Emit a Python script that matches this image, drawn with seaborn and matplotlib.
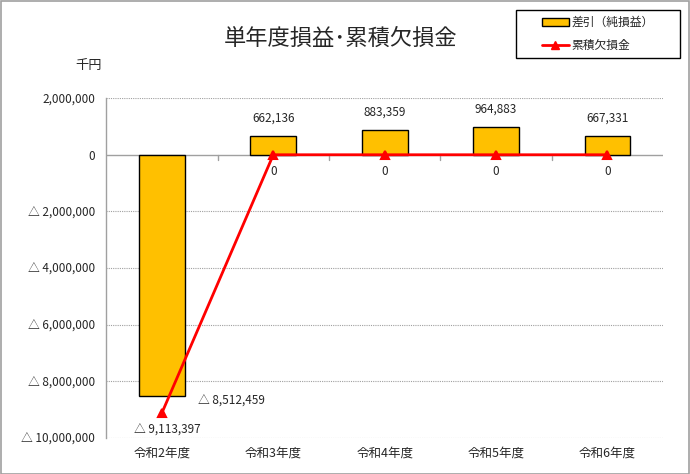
import matplotlib
matplotlib.use("Agg")
import matplotlib.pyplot as plt
import seaborn as sns
import pandas as pd
from matplotlib.lines import Line2D
from matplotlib.patches import Patch, Rectangle

sns.set_theme(style="white")
plt.rcParams["font.family"] = ["Noto Sans CJK JP", "DejaVu Sans"]

# data
years = ["令和2年度", "令和3年度", "令和4年度", "令和5年度", "令和6年度"]
net_profit = [-8512459, 662136, 883359, 964883, 667331]
cum_deficit = [-9113397, 0, 0, 0, 0]
yticks = [2000000, 0, -2000000, -4000000, -6000000, -8000000, -10000000]


def fmt(v):
    if v < 0:
        return "△ {:,}".format(-v)
    return "{:,}".format(v)


df = pd.DataFrame({"year": years, "net": net_profit, "cum": cum_deficit})

fig = plt.figure(figsize=(6.9, 4.74), dpi=100)
ax = fig.add_axes([0.154, 0.076, 0.807, 0.717])

sns.barplot(data=df, x="year", y="net", color="#FFC000", width=0.41,
            edgecolor="black", linewidth=1.0, saturation=1, ax=ax, zorder=2)
sns.pointplot(data=df, x="year", y="cum", color="#FF0000", markers="^",
              markersize=6, linewidth=2, ax=ax, zorder=3)

ax.set_xlim(-0.5, 4.5)
ax.set_ylim(-10000000, 2000000)
ax.set_yticks(yticks)
ax.set_yticklabels([fmt(v) for v in yticks], fontsize=8.5)
ax.tick_params(axis="x", length=0, labelsize=9, pad=6)
ax.tick_params(axis="y", length=0, pad=8)
ax.set_xlabel("")
ax.set_ylabel("")

for v in yticks:
    if v != 0:
        ax.axhline(v, color="#A0A0A0", linestyle=(0, (1, 1)), linewidth=0.8, zorder=0)
ax.axhline(0, color="#A0A0A0", linewidth=1.0, zorder=1)
for i in range(1, 5):
    ax.plot([i - 0.5, i - 0.5], [0, -200000], color="#A0A0A0", linewidth=1.0, zorder=1)

for side in ["top", "right", "bottom"]:
    ax.spines[side].set_visible(False)
ax.spines["left"].set_color("#A0A0A0")
ax.spines["left"].set_linewidth(1.0)

# bar labels
for i, v in enumerate(net_profit):
    if v >= 0:
        ax.text(i, v + 400000, fmt(v), ha="center", va="bottom", fontsize=8.5)
    else:
        ax.text(i + 0.32, v - 200000, fmt(v), ha="left", va="center", fontsize=8.5)

# line labels
for i, v in enumerate(cum_deficit):
    if v == 0:
        ax.text(i, v - 600000, fmt(v), ha="center", va="center", fontsize=8.5)
    else:
        ax.text(i + 0.05, v - 600000, fmt(v), ha="center", va="center", fontsize=8.5)

fig.text(0.493, 0.918, "単年度損益･累積欠損金", ha="center", va="center", fontsize=16)
fig.text(0.128, 0.861, "千円", ha="center", va="center", fontsize=9.5)

# legend
handles = [Patch(facecolor="#FFC000", edgecolor="black", linewidth=1.0),
           Line2D([0], [0], color="#FF0000", marker="^", markersize=6, linewidth=2)]
fig.legend(handles, ["差引（純損益）", "累積欠損金"], loc="center left",
           bbox_to_anchor=(0.785, 0.928), borderaxespad=0, borderpad=0,
           fontsize=8.5, frameon=False, labelspacing=0.85,
           handlelength=2.3, handletextpad=0.2)
fig.add_artist(Rectangle((0.748, 0.878), 0.238, 0.101, transform=fig.transFigure,
                         fill=False, edgecolor="black", linewidth=1.0))

fig.add_artist(Rectangle((0.001, 0.001), 0.997, 0.997, transform=fig.transFigure,
                         fill=False, edgecolor="#A0A0A0", linewidth=1.2))

fig.savefig("out.png", dpi=100)
